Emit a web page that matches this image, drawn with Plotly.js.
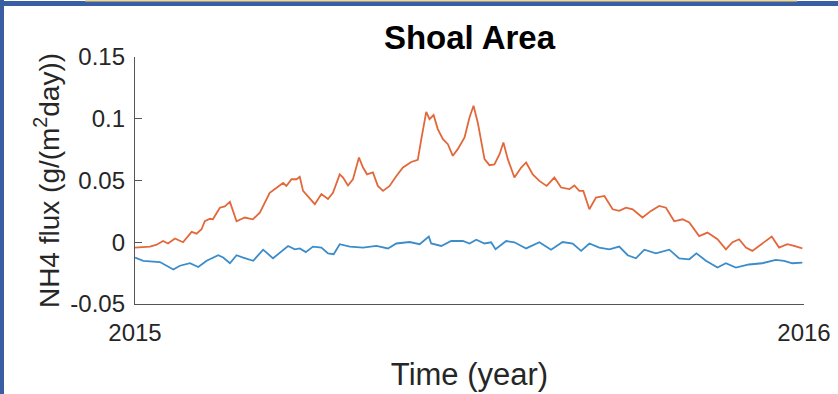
<!DOCTYPE html>
<html>
<head>
<meta charset="utf-8">
<script src="https://cdn.plot.ly/plotly-3.0.1.min.js"></script>
<style>html,body{margin:0;padding:0;background:#fff;}#chart{width:838px;height:394px;}</style>
</head>
<body>
<div id="chart"></div>
<script>
// Day-of-year positions and NH4 flux values (g/(m^2 day))
const orangeDays = [0,8.2,11.8,15.3,18,21.8,26.2,30.9,33.6,36.3,38.1,40.9,42.5,46.3,49,51.8,55.4,59.9,64.3,68.1,73.5,77.2,80.8,82.6,85.4,88.1,89.9,91.7,95.3,98.1,101.7,105.3,108,111.7,113.5,116.2,118.9,122.2,124.4,126.6,129.8,132.5,135.3,138.9,142.6,146.2,150.7,154.3,156.2,158.9,160.7,162.9,165.2,168,170.7,173.4,176.1,179.8,182.5,184.7,187,190.7,193.4,196.1,198.9,201,203.4,207,210.7,213.4,217,220.6,224.6,228.8,232.5,237,239.7,242.4,244.6,247.9,251.5,256.1,260.6,264.2,267.9,271.5,276.9,281.5,286,289.7,294.2,298.7,302.4,307.8,312.3,315.1,317.8,322.4,326,329.6,333.3,336.8,340.5,343.2,347.4,351.4,355.9,359.6,364.1];
const orangeFlux = [-0.0043,-0.0035,-0.002,0.001,-0.001,0.003,0,0.0084,0.007,0.0105,0.017,0.019,0.0186,0.028,0.029,0.0327,0.017,0.020,0.0186,0.024,0.040,0.044,0.048,0.0456,0.051,0.051,0.053,0.0416,0.0354,0.0308,0.039,0.035,0.040,0.055,0.0524,0.046,0.051,0.0686,0.0605,0.055,0.0565,0.0456,0.0416,0.0456,0.0537,0.0605,0.065,0.0667,0.0835,0.1056,0.0997,0.103,0.0916,0.0835,0.0794,0.070,0.0754,0.0848,0.101,0.1105,0.097,0.0673,0.0624,0.063,0.0713,0.0808,0.0673,0.0524,0.0605,0.0646,0.055,0.0497,0.0456,0.0524,0.0443,0.043,0.046,0.0416,0.0416,0.0267,0.0362,0.0375,0.0267,0.0254,0.028,0.0267,0.020,0.0254,0.0294,0.028,0.017,0.0186,0.016,0.005,0.0078,0.005,0.0024,-0.0057,0,0.0024,-0.0043,-0.007,-0.003,0.0002,0.0046,-0.0043,-0.0016,-0.003,-0.005];

const blueDays = [0,4.5,13.6,17.3,20.9,24.5,30,34.5,39.1,45.4,48.1,51.8,55.4,59,64.5,69.9,75.3,83.5,87.2,89.9,93.2,97.1,101.7,105.3,108.4,111.7,117.2,124.4,131.7,138,142.6,149.8,155.3,160.3,161.6,167.1,172.5,178.9,182.5,186.2,190.7,194.3,196.7,202.5,207,213.4,220.6,227,233.3,238.8,243.4,247.9,253.3,258.8,264.2,268.8,273.3,277.9,284.2,291.5,296.9,302.4,306.3,311.5,317.8,322.4,327.8,335,342.2,349.6,354.1,358.6,364.1];
const blueFlux = [-0.0124,-0.015,-0.016,-0.019,-0.022,-0.019,-0.017,-0.020,-0.015,-0.0105,-0.0124,-0.017,-0.0105,-0.0124,-0.015,-0.006,-0.013,-0.003,-0.0057,-0.005,-0.008,-0.0035,-0.0043,-0.009,-0.0097,-0.0016,-0.0035,-0.0043,-0.003,-0.005,-0.001,0.0002,-0.0016,0.0046,-0.001,-0.003,0.001,0.001,-0.001,0.002,-0.001,0,-0.0057,0.001,0,-0.005,0,-0.006,0.0002,-0.001,-0.007,-0.001,-0.0043,-0.0057,-0.0035,-0.0105,-0.013,-0.006,-0.009,-0.006,-0.013,-0.0138,-0.009,-0.015,-0.0205,-0.017,-0.0205,-0.018,-0.017,-0.0143,-0.015,-0.017,-0.0165];

const yTickVals = [-0.05, 0, 0.05, 0.1, 0.15];
const yTickText = ['-0.05', '0', '0.05', '0.1', '0.15'];
const xTickVals = [2015, 2016];
const xTickText = ['2015', '2016'];
const startYear = 2015;
const daysInYear = 365;

const toYear = d => startYear + d / daysInYear;

const W = 838, H = 394;
const M = {l: 135, r: 34, t: 57, b: 90};
const pw = W - M.l - M.r, ph = H - M.t - M.b;
const px = v => (v - M.l) / pw;       // pixel x -> paper x
const py = v => 1 - (v - M.t) / ph;   // pixel y -> paper y

const axisColor = '#555555';
const font = 'Liberation Sans, Arial, Helvetica, sans-serif';

const traces = [
  {x: orangeDays.map(toYear), y: orangeFlux, type: 'scatter', mode: 'lines',
   line: {color: '#E2683A', width: 1.8}, hoverinfo: 'skip'},
  {x: blueDays.map(toYear), y: blueFlux, type: 'scatter', mode: 'lines',
   line: {color: '#3A8CCB', width: 1.8}, hoverinfo: 'skip'}
];

const layout = {
  width: W, height: H,
  margin: M,
  paper_bgcolor: '#ffffff', plot_bgcolor: '#ffffff',
  showlegend: false,
  font: {family: font, color: '#262626'},
  title: {text: '<b>Shoal Area</b>', font: {size: 33, color: '#000', family: font},
          x: px(469.5), xref: 'paper', xanchor: 'center', y: 1 - 37 / H, yanchor: 'middle'},
  xaxis: {
    range: [2015, 2016], tickvals: xTickVals, ticktext: xTickText,
    ticks: 'inside', ticklen: 7, tickcolor: axisColor, tickwidth: 1,
    showline: true, linecolor: axisColor, linewidth: 1.2, showgrid: false, zeroline: false,
    tickfont: {size: 24, color: '#262626'},
    ticklabelstandoff: 7,
    title: {text: 'Time (year)', font: {size: 31, color: '#262626'}, standoff: 18},
    fixedrange: true
  },
  yaxis: {
    range: [-0.05, 0.15], tickvals: yTickVals, ticktext: yTickText,
    ticks: 'inside', ticklen: 7, tickcolor: axisColor, tickwidth: 1,
    showline: true, linecolor: axisColor, linewidth: 1.2, showgrid: false, zeroline: false,
    tickfont: {size: 24, color: '#262626'},
    ticklabelstandoff: 4,
    title: {text: 'NH4 flux (g/(m<sup>2</sup>day))', font: {size: 28, color: '#262626'}, standoff: 2},
    fixedrange: true
  },
  shapes: [
    {type: 'rect', xref: 'paper', yref: 'paper', x0: px(0), x1: px(4), y0: py(H), y1: py(0),
     fillcolor: '#3A5EA4', line: {width: 0}, layer: 'above'},
    {type: 'rect', xref: 'paper', yref: 'paper', x0: px(0), x1: px(W), y0: py(6), y1: py(1),
     fillcolor: '#3A5EA4', line: {width: 0}, layer: 'above'},
    {type: 'rect', xref: 'paper', yref: 'paper', x0: px(85), x1: px(797), y0: py(1.5), y1: py(0),
     fillcolor: '#F3D98A', line: {width: 0}, layer: 'above'}
  ]
};

Plotly.newPlot('chart', traces, layout, {staticPlot: true, displayModeBar: false});
</script>
</body>
</html>
